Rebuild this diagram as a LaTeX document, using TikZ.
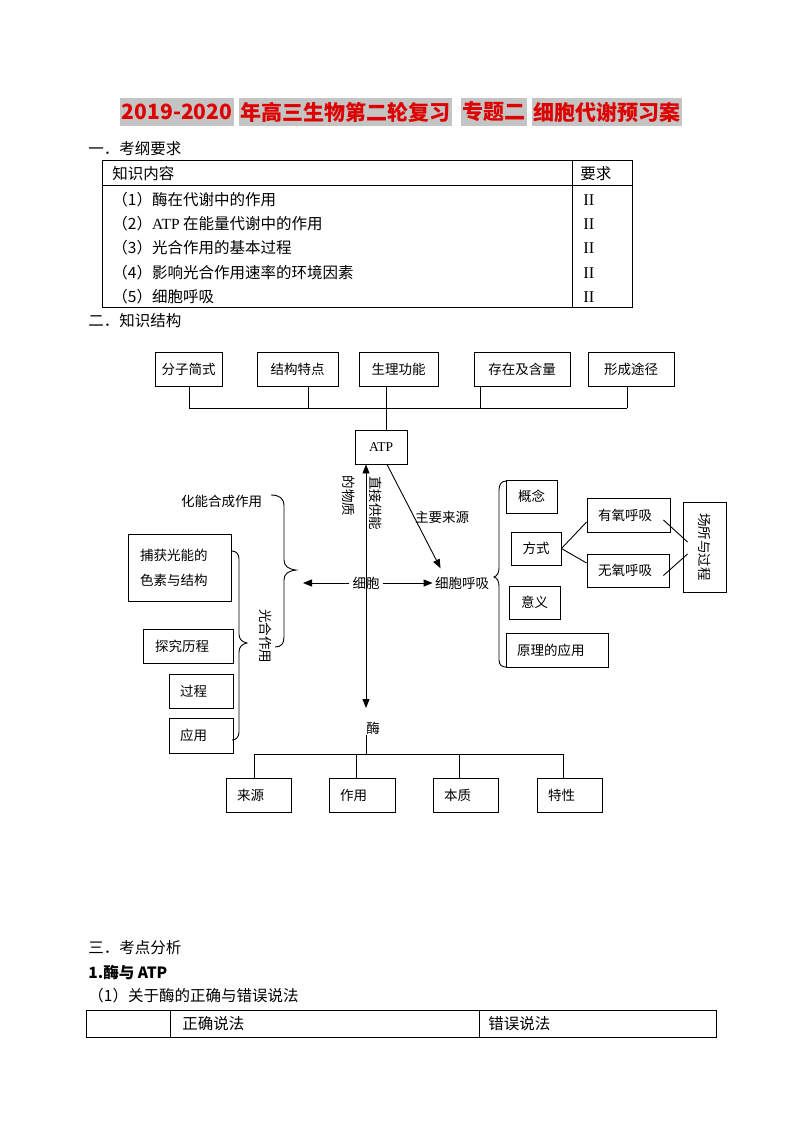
\documentclass[tikz,border=0pt]{standalone}
\usepackage{fontspec}
\setmainfont{Liberation Serif}
\newfontfamily\cjk{Noto Sans CJK SC}
\usetikzlibrary{arrows.meta}
\definecolor{hl}{RGB}{196,196,196}
\definecolor{ttlred}{RGB}{222,0,0}
\newcommand\dgf{\cjk\fontsize{13.5}{16}\selectfont}
\newcommand\tbf{\cjk\fontsize{15.5}{18}\selectfont}
\newcommand\ttlf{\cjk\bfseries\fontsize{21}{24}\selectfont}
\begin{document}
\begin{tikzpicture}[x=1pt,y=-1pt,line width=0.9pt,
  txt/.style={inner sep=0pt,font=\dgf},
  tb/.style={inner sep=0pt,font=\tbf,anchor=west},
  rn/.style={inner sep=0pt,anchor=west,font=\rmfamily\fontsize{16.5}{18}\selectfont},
  box/.style={draw,line width=0.9pt,inner sep=0pt,font=\dgf},
  arr/.style={-{Triangle[length=9pt,width=7pt]}},
  ttl/.style={fill=hl,text=ttlred,font=\ttlf,inner xsep=1.5pt,inner ysep=0pt,minimum height=28pt,anchor=west}]
\useasboundingbox (0,0) rectangle (800,1130);
\fill[white] (0,0) rectangle (800,1130);

% title
\node[ttl] (t1) at (120,112) {2019-2020};
\node[ttl] (t2) at ([xshift=4pt]t1.east) {年高三生物第二轮复习\hspace{8pt}};
\node[ttl] (t3) at ([xshift=8pt]t2.east) {专题二\hspace{8pt}};
\node[ttl] (t4) at ([xshift=4pt]t3.east) {细胞代谢预习案};

% section 1
\node[tb] (s1) at (88,149) {一．考纲要求};
\draw (102,160) rectangle (632,307);
\draw (102,185) -- (632,185);
\draw (572,160) -- (572,307);
\node[tb] (kh) at (112,174) {知识内容};
\node[tb] (rh) at (580,174) {要求};
\node[tb] (k1) at (112,200) {（1）酶在代谢中的作用};
\node[tb] (k2) at (112,224) {（2）{\rmfamily ATP} 在能量代谢中的作用};
\node[tb] (k3) at (112,248) {（3）光合作用的基本过程};
\node[tb] (k4) at (112,273) {（4）影响光合作用速率的环境因素};
\node[tb] (k5) at (112,297) {（5）细胞呼吸};
\node[rn] (q1) at (583,200) {II};
\node[rn] (q2) at (583,224) {II};
\node[rn] (q3) at (583,248) {II};
\node[rn] (q4) at (583,273) {II};
\node[rn] (q5) at (583,297) {II};

% section 2
\node[tb] (s2) at (88,321) {二．知识结构};

% top boxes
\node[box,minimum width=67pt,minimum height=34pt] (b1) at (188.5,369) {分子简式};
\node[box,minimum width=81pt,minimum height=34pt] (b2) at (297.5,369) {结构特点};
\node[box,minimum width=79pt,minimum height=34pt] (b3) at (398.5,369) {生理功能};
\node[box,minimum width=96pt,minimum height=34pt] (b4) at (522,369) {存在及含量};
\node[box,minimum width=86pt,minimum height=34pt] (b5) at (631,369) {形成途径};
\node[box,minimum width=52pt,minimum height=34pt,font=\rmfamily\fontsize{13.5}{16}\selectfont] (atp) at (381,447) {ATP};

\coordinate (h1) at (189,408);
\coordinate (h2) at (308,408);
\coordinate (h3) at (386,408);
\coordinate (h4) at (480,408);
\coordinate (h5) at (627,408);
\draw (b1.south -| h1) -- (h1);
\draw (b2.south -| h2) -- (h2);
\draw (b3.south -| h3) -- (atp.north -| h3);
\draw (b4.south -| h4) -- (h4);
\draw (b5.south -| h5) -- (h5);
\draw (h1) -- (h5);

% central axis
\coordinate (va) at (366,708);
\draw[{Triangle[length=9pt,width=7pt]}-{Triangle[length=9pt,width=7pt]}] (atp.south -| va) -- (va);
\node[txt,rotate=-90] (zj) at (375.5,503) {直接供能};
\node[txt,rotate=-90] (wz) at (349,496) {的物质};
\node[txt] (zy) at (442,517) {主要来源};

\node[txt,inner xsep=3pt] (cell) at (366,583) {细胞};
\node[txt,inner xsep=2pt] (resp) at (462,583) {细胞呼吸};
\coordinate (btip) at (303,583);
\draw[arr] (cell.west) -- (btip);
\draw[arr] (cell.east) -- (resp.west);
\draw[arr] ([xshift=6pt]atp.south) -- ([xshift=8pt,yshift=8pt]resp.north west);

% left side
\node[txt] (chem) at (221.5,501) {化能合成作用};
\node[txt,rotate=-90] (photo) at (266,636) {光合作用};
\draw (271,495) .. controls (279,495) and (284,498) .. (284,506) -- (284,560)
  .. controls (284,566) and (288,569) .. (296,570)
  .. controls (288,571) and (284,574) .. (284,580) -- (284,637)
  .. controls (284,644) and (281,647) .. (275,647);
\draw (232,551) .. controls (236,551) and (239,554) .. (239,559) -- (239,634)
  .. controls (239,639) and (242,642) .. (247,643)
  .. controls (242,644) and (239,647) .. (239,652) -- (239,732)
  .. controls (239,737) and (236,740) .. (232,740);
\node[box,text width=79pt,inner xsep=12pt,minimum height=67pt,align=left,font=\cjk\fontsize{13.5}{25}\selectfont] (l1) at (179.5,567.5) {捕获光能的\\色素与结构};
\node[box,text width=66pt,inner xsep=12pt,minimum height=34pt,align=left] (l2) at (188,646) {探究历程};
\node[box,text width=42pt,inner xsep=11pt,minimum height=34pt,align=left] (l3) at (201,691) {过程};
\node[box,text width=42pt,inner xsep=11pt,minimum height=35pt,align=left] (l4) at (201,735.5) {应用};

% right side
\draw (506,481) .. controls (502,481) and (499,484) .. (499,490) -- (499,568)
  .. controls (499,573) and (497,576) .. (494,577)
  .. controls (497,578) and (499,581) .. (499,586) -- (499,660)
  .. controls (499,665) and (502,667) .. (506,667);
\node[box,minimum width=51pt,minimum height=33pt] (r1) at (531.5,496.5) {概念};
\node[box,minimum width=50pt,minimum height=33pt] (r2) at (536,548.5) {方式};
\node[box,minimum width=51pt,minimum height=33pt] (r3) at (534.5,602.5) {意义};
\node[box,text width=80pt,inner xsep=11pt,minimum height=34pt,align=left] (r4) at (557,650) {原理的应用};
\node[box,text width=61pt,inner xsep=11pt,minimum height=34pt,align=left] (r5) at (628.5,515) {有氧呼吸};
\node[box,text width=60pt,inner xsep=11pt,minimum height=33pt,align=left] (r6) at (628,570.5) {无氧呼吸};
\node[box,rotate=-90,minimum width=90pt,minimum height=43pt] (r7) at (704.5,547) {场所与过程};
\draw (r2.east) -- ([yshift=-7pt]r5.west);
\draw (r2.east) -- ([yshift=7.5pt]r6.west);
\draw ([xshift=-7pt,yshift=-5pt]r5.east) -- ([xshift=5pt,yshift=5pt]r7.south);
\draw ([xshift=-6pt,yshift=-5pt]r6.east) -- ([xshift=5pt,yshift=-7pt]r7.south);

% enzyme
\node[txt] (enz) at (373,728) {酶};
\coordinate (eh) at (366,754);
\draw (enz.south -| eh) -- (eh);
\coordinate (g1) at (254,754);
\coordinate (g2) at (356,754);
\coordinate (g3) at (459,754);
\coordinate (g4) at (563,754);
\node[box,text width=43pt,inner xsep=11pt,minimum height=34pt,align=left] (e1) at (258.5,795) {来源};
\node[box,text width=44pt,inner xsep=11pt,minimum height=34pt,align=left] (e2) at (362,795) {作用};
\node[box,text width=43pt,inner xsep=11pt,minimum height=34pt,align=left] (e3) at (465.5,795) {本质};
\node[box,text width=43pt,inner xsep=11pt,minimum height=34pt,align=left] (e4) at (569.5,795) {特性};
\draw (g1) -- (g4);
\draw (g1) -- (e1.north -| g1);
\draw (g2) -- (e2.north -| g2);
\draw (g3) -- (e3.north -| g3);
\draw (g4) -- (e4.north -| g4);

% section 3
\node[tb] (s3) at (88,948) {三．考点分析};
\node[tb,font=\cjk\bfseries\fontsize{15.5}{18}\selectfont] (s4) at (88,973) {1.酶与 ATP};
\node[tb] (s5) at (88,996) {（1）关于酶的正确与错误说法};
\draw (86,1010) rectangle (716,1037);
\draw (170,1010) -- (170,1037);
\draw (479,1010) -- (479,1037);
\node[tb] (c1) at (182,1023.5) {正确说法};
\node[tb] (c2) at (488,1023.5) {错误说法};
\end{tikzpicture}
\end{document}
